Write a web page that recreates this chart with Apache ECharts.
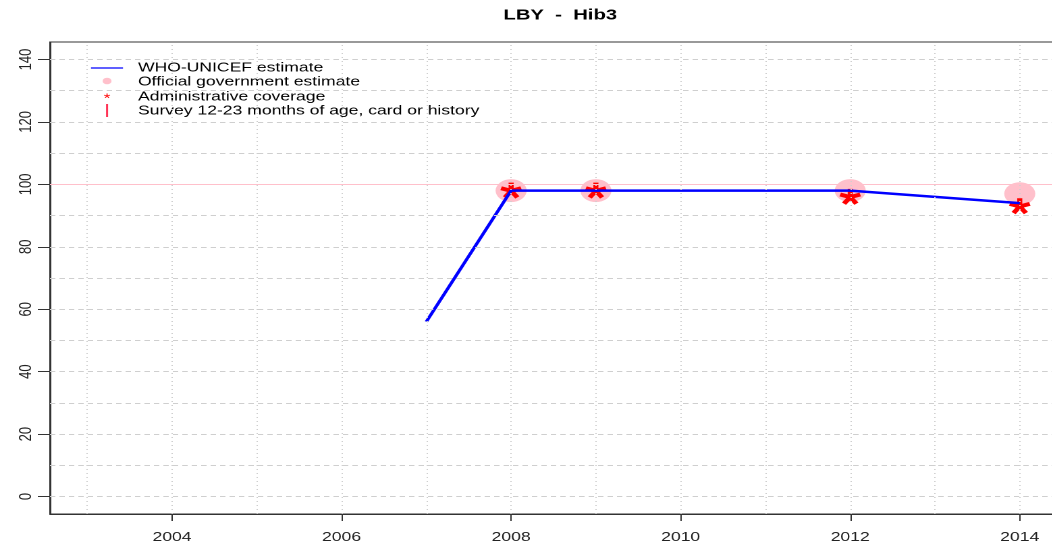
<!DOCTYPE html>
<html>
<head>
<meta charset="utf-8">
<script src="https://cdn.jsdelivr.net/npm/echarts@6/dist/echarts.min.js"></script>
<style>
html,body{margin:0;padding:0;overflow:hidden;background:#fff;width:1052px;height:547px;}
#c{width:784px;height:547px;transform:scaleX(1.35);transform-origin:0 0;}
</style>
</head>
<body>
<div id="c"></div>
<script>
// ---- data ----
const chartTitle = 'LBY  -  Hib3';
const wuenicYears = [2007, 2008, 2009, 2010, 2011, 2012, 2013, 2014];
const wuenicValues = [56, 98, 98, 98, 98, 98, 96, 94];
const govYears = [2008, 2009, 2012, 2014];
const govValues = [98, 98, 98, 97];
const adminYears = [2008, 2009, 2012, 2014];
const adminValues = [98, 98, 96, 93];
const xTickLabels = [2004, 2006, 2008, 2010, 2012, 2014];
const yTickLabels = [0, 20, 40, 60, 80, 100, 120, 140];
const xGridYears = [2003, 2004, 2005, 2006, 2007, 2008, 2009, 2010, 2011, 2012, 2013, 2014];
const yGridValues = [0, 10, 20, 30, 40, 50, 60, 70, 80, 90, 100, 110, 120, 130, 140];
const legendLabels = ['WHO-UNICEF estimate', 'Official government estimate', 'Administrative coverage', 'Survey 12-23 months of age, card or history'];

// ---- 5-armed asterisk outline polygon ----
function asteriskPath() {
  const w = 0.24, r = w / Math.sin(36 * Math.PI / 180), pts = [];
  for (let k = 0; k < 5; k++) {
    const t = (-90 + 72 * k) * Math.PI / 180;
    const b = t - 36 * Math.PI / 180;
    const dx = Math.cos(t), dy = Math.sin(t), nx = -dy, ny = dx;
    pts.push([r * Math.cos(b), r * Math.sin(b)]);
    pts.push([dx - nx * w, dy - ny * w]);
    pts.push([dx + nx * w, dy + ny * w]);
  }
  return 'path://M' + pts.map(p => p[0].toFixed(3) + ',' + p[1].toFixed(3)).join(' L') + ' Z';
}

const chart = echarts.init(document.getElementById('c'), null, {renderer: 'canvas', devicePixelRatio: 2});
const font = 'Liberation Sans, Arial, sans-serif';
const xMin = 2002.56, xMax = 2014.44, yMin = -5.6, yMax = 145.6;

const option = {
  animation: false,
  title: {
    text: chartTitle, left: 410, top: 3, textAlign: 'center',
    textStyle: {fontFamily: font, fontWeight: 'bold', fontSize: 15, color: '#000'}
  },
  grid: {left: 37, right: 1, top: 42, bottom: 33, show: true, borderColor: '#333', borderWidth: 1, backgroundColor: 'transparent'},
  xAxis: {
    type: 'value', min: xMin, max: xMax,
    axisLine: {show: true, onZero: false, lineStyle: {color: '#333', width: 1}},
    axisTick: {show: true, customValues: xTickLabels, length: 7, lineStyle: {color: '#333'}},
    axisLabel: {customValues: xTickLabels, margin: 17, fontFamily: font, fontSize: 13, color: '#222', formatter: v => String(v)},
    splitLine: {show: false}
  },
  yAxis: {
    type: 'value', min: yMin, max: yMax,
    axisLine: {show: true, onZero: false, lineStyle: {color: '#333', width: 1}},
    axisTick: {show: true, customValues: yTickLabels, length: 9, lineStyle: {color: '#333'}},
    axisLabel: {customValues: yTickLabels, margin: 11, rotate: 90, fontFamily: font, fontSize: 13, color: '#222', formatter: v => String(v)},
    splitLine: {show: false}
  },
  graphic: [
    {type: 'line', shape: {x1: 67.4, y1: 68, x2: 91.1, y2: 68}, style: {stroke: '#0000FF', lineWidth: 1.2}},
    {type: 'circle', shape: {cx: 79.3, cy: 81, r: 3.3}, style: {fill: '#FFC0CB'}},
    {type: 'text', style: {x: 79.3, y: 99, text: '*', fill: '#FF0000', font: '13px ' + font, textAlign: 'center', textVerticalAlign: 'middle'}},
    {type: 'line', shape: {x1: 79.3, y1: 104, x2: 79.3, y2: 117}, style: {stroke: '#FF3355', lineWidth: 1.5}},
    {type: 'text', style: {x: 102.2, y: 68, text: legendLabels[0], fill: '#000', font: '13px ' + font, textVerticalAlign: 'middle'}},
    {type: 'text', style: {x: 102.2, y: 82, text: legendLabels[1], fill: '#000', font: '13px ' + font, textVerticalAlign: 'middle'}},
    {type: 'text', style: {x: 102.2, y: 97, text: legendLabels[2], fill: '#000', font: '13px ' + font, textVerticalAlign: 'middle'}},
    {type: 'text', style: {x: 102.2, y: 111, text: legendLabels[3], fill: '#000', font: '13px ' + font, textVerticalAlign: 'middle'}}
  ],
  series: [
    {
      type: 'line', data: [], silent: true,
      markLine: {
        silent: true, symbol: 'none', label: {show: false},
        data: [
          ...xGridYears.map(v => ({xAxis: v, lineStyle: {color: '#CFCFCF', type: [1, 3], width: 1}})),
          ...yGridValues.map(v => ({yAxis: v, lineStyle: {color: '#CFCFCF', type: [4, 3], width: 1}})),
          {yAxis: 100, lineStyle: {color: '#FFC0CB', type: 'solid', width: 1}}
        ]
      }
    },
    {
      name: legendLabels[1], type: 'scatter', symbol: 'circle', symbolSize: 23,
      itemStyle: {color: '#FFC0CB', opacity: 1},
      data: govYears.map((y, i) => [y, govValues[i]]), z: 2
    },
    {
      name: legendLabels[2], type: 'scatter', symbol: asteriskPath(), symbolSize: [16, 16],
      itemStyle: {color: '#FF0000', opacity: 1},
      data: adminYears.map((y, i) => [y, adminValues[i]]), z: 3
    },
    {
      name: legendLabels[0], type: 'line', showSymbol: false, symbol: 'none',
      lineStyle: {color: '#0000FF', width: 2.5},
      data: wuenicYears.map((y, i) => [y, wuenicValues[i]]), z: 4
    }
  ]
};
chart.setOption(option);
</script>
</body>
</html>
